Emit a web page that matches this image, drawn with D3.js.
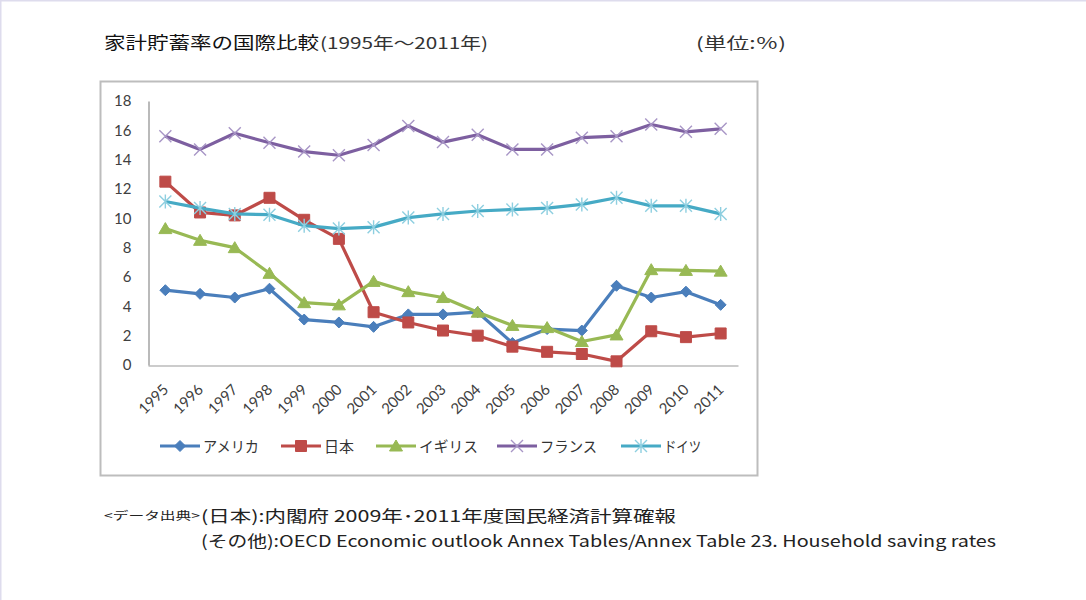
<!DOCTYPE html>
<html><head><meta charset="utf-8">
<script src="https://cdn.jsdelivr.net/npm/d3@7"></script>
<style>
html,body{margin:0;padding:0;background:#fff;}
svg{display:block;}
</style>
</head><body>
<script>
const years = ["1995","1996","1997","1998","1999","2000","2001","2002","2003","2004","2005","2006","2007","2008","2009","2010","2011"];
const america = [5.1,4.85,4.6,5.2,3.1,2.9,2.6,3.45,3.45,3.6,1.5,2.45,2.35,5.4,4.6,5.0,4.1];
const japan   = [12.5,10.4,10.2,11.4,9.9,8.6,3.6,2.9,2.35,2.0,1.25,0.9,0.75,0.25,2.3,1.9,2.15];
const uk      = [9.3,8.5,8.0,6.25,4.25,4.1,5.7,5.0,4.6,3.6,2.7,2.55,1.6,2.05,6.5,6.45,6.4];
const france  = [15.6,14.7,15.8,15.15,14.55,14.3,15.0,16.3,15.2,15.7,14.7,14.7,15.5,15.6,16.4,15.9,16.1];
const germany = [11.15,10.7,10.3,10.25,9.5,9.3,9.4,10.05,10.3,10.5,10.6,10.7,10.95,11.4,10.85,10.85,10.3];
const seriesNames = ["アメリカ","日本","イギリス","フランス","ドイツ"];
const yTicks = [0,2,4,6,8,10,12,14,16,18];

const seriesData = [america, japan, uk, france, germany];
const colors = ["#4A7EBB","#BE4B48","#98B954","#7D5FA0","#46AAC5"];
const markerStroke = ["#4A7EBB","#BE4B48","#98B954","#A896C6","#8ECFE0"];
const markerType = ["diamond","square","triangle","x","star"];

const W = 1086, H = 600;
const svg = d3.select("body").append("svg").attr("width", W).attr("height", H);

// page border lines (top & left)
svg.append("line").attr("x1",0).attr("y1",0.5).attr("x2",W).attr("y2",0.5).attr("stroke","#dedced").attr("stroke-width",2);
svg.append("line").attr("x1",0.5).attr("y1",0).attr("x2",0.5).attr("y2",H).attr("stroke","#dedced").attr("stroke-width",2);

const jpFont = "'Noto Sans CJK JP', sans-serif";

// title
svg.append("text").attr("x",104).attr("y",49).attr("font-family",jpFont).attr("font-size",17)
  .attr("fill","#111").attr("textLength",215).attr("lengthAdjust","spacingAndGlyphs").text("家計貯蓄率の国際比較");
svg.append("text").attr("x",320).attr("y",49).attr("font-family",jpFont).attr("font-size",16)
  .attr("fill","#333").attr("textLength",168).attr("lengthAdjust","spacingAndGlyphs").text("(1995年〜2011年)");
svg.append("text").attr("x",696).attr("y",49).attr("font-family",jpFont).attr("font-size",16)
  .attr("fill","#333").attr("textLength",90).attr("lengthAdjust","spacingAndGlyphs").text("(単位:％)");

// chart frame
svg.append("rect").attr("x",100.5).attr("y",81.5).attr("width",657).attr("height",394)
  .attr("fill","#fff").attr("stroke","#bdbdbd").attr("stroke-width",2);

const x = d3.scaleBand().domain(years).range([148,738]).padding(0);
const y = d3.scaleLinear().domain([0,18]).range([365,101]);

// y axis
const yAxis = svg.append("g").attr("transform","translate(148.5,0)")
  .call(d3.axisLeft(y).tickValues(yTicks).tickSize(0).tickPadding(17).tickFormat(d3.format("d")));
yAxis.select(".domain").attr("stroke","#8c8c8c").attr("stroke-width",1.2);
yAxis.selectAll("text").attr("font-family","Lato, 'Liberation Sans', sans-serif").attr("font-size",15).attr("fill","#404040");

// x axis
const xAxis = svg.append("g").attr("transform","translate(0,365.5)")
  .call(d3.axisBottom(x).tickSize(0).tickPadding(0));
xAxis.select(".domain").attr("stroke","#9a9a9a").attr("stroke-width",1.2);
xAxis.selectAll("text")
  .attr("font-family","Lato, 'Liberation Sans', sans-serif").attr("font-size",15).attr("fill","#404040")
  .attr("text-anchor","end").attr("dy",0)
  .attr("transform", "translate(4,25) rotate(-45)");

function markerPath(type){
  if(type==="diamond") return "M0,-5.5L5.5,0L0,5.5L-5.5,0Z";
  if(type==="square") return d3.symbol().type(d3.symbolSquare).size(121)();
  if(type==="triangle") return "M0,-6L6.5,5L-6.5,5Z";
  if(type==="x") return "M-6,-6L6,6M-6,6L6,-6";
  if(type==="star") return "M-6,-6L6,6M-6,6L6,-6M0,-7L0,7";
}
function drawMarker(g, type, i){
  const p = g.append("path").attr("d", markerPath(type));
  if(type==="x"||type==="star"){
    p.attr("fill","none").attr("stroke",markerStroke[i]).attr("stroke-width",1.4);
  } else {
    p.attr("fill",colors[i]).attr("stroke",colors[i]).attr("stroke-width",1);
  }
}

const line = d3.line().x((d,j)=>x(years[j])+x.bandwidth()/2).y(d=>y(d));

seriesData.forEach((vals,i)=>{
  const g = svg.append("g");
  g.append("path").datum(vals).attr("d",line).attr("fill","none")
    .attr("stroke",colors[i]).attr("stroke-width",3.2).attr("stroke-linejoin","round");
  vals.forEach((v,j)=>{
    const mg = g.append("g").attr("transform",`translate(${x(years[j])+x.bandwidth()/2},${y(v)})`);
    drawMarker(mg, markerType[i], i);
  });
});

// legend
const legendX = [160, 281, 376, 497, 621];
const legendTextLen = [56, 30, 59, 57, 37];
seriesNames.forEach((name,i)=>{
  const lg = svg.append("g").attr("transform",`translate(${legendX[i]},446)`);
  lg.append("line").attr("x1",0).attr("x2",40).attr("y1",0).attr("y2",0).attr("stroke",colors[i]).attr("stroke-width",3.2);
  const mg = lg.append("g").attr("transform","translate(20,0)");
  drawMarker(mg, markerType[i], i);
  lg.append("text").attr("x",43).attr("y",6).attr("font-family",jpFont).attr("font-size",15)
    .attr("fill","#333").attr("textLength",legendTextLen[i]).attr("lengthAdjust","spacingAndGlyphs").text(name);
});

// footer
svg.append("text").attr("x",104).attr("y",520).attr("font-family",jpFont).attr("font-size",11)
  .attr("fill","#222").attr("textLength",96).attr("lengthAdjust","spacingAndGlyphs").text("<データ出典>");
svg.append("text").attr("x",201).attr("y",522).attr("font-family",jpFont).attr("font-size",16)
  .attr("fill","#222").attr("textLength",475).attr("lengthAdjust","spacingAndGlyphs").text("(日本):内閣府  2009年･2011年度国民経済計算確報");
svg.append("text").attr("x",201).attr("y",547).attr("font-family",jpFont).attr("font-size",16)
  .attr("fill","#222").attr("textLength",795).attr("lengthAdjust","spacingAndGlyphs").text("(その他):OECD Economic outlook Annex Tables/Annex Table 23. Household saving rates");
</script>
</body></html>
